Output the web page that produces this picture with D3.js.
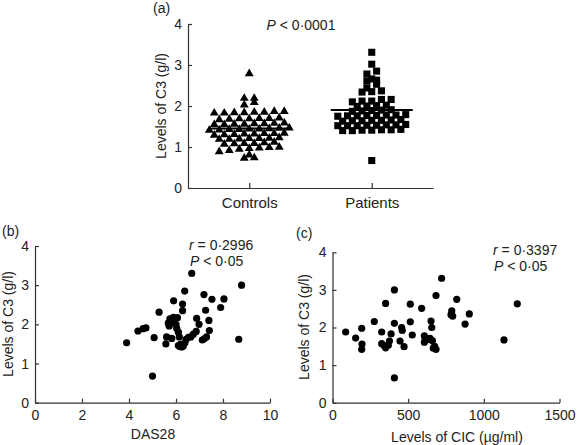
<!DOCTYPE html>
<html>
<head>
<meta charset="utf-8">
<script src="https://cdn.jsdelivr.net/npm/d3@7/dist/d3.min.js"></script>
<style>
  html, body { margin: 0; padding: 0; background: #fff; }
  svg { display: block; }
  text { font-family: "Liberation Sans", Arial, sans-serif; fill: #222; }
</style>
</head>
<body>
<svg id="chart" width="577" height="445"></svg>
<script>
// ---------- DATA ----------
const groupCategories = ["Controls", "Patients"];
const controlsC3 = [2.80,
  2.04, 2.10, 2.20, 2.20,
  1.85, 1.86, 1.84, 1.88, 1.88, 1.85, 1.84, 1.86,
  1.70, 1.71, 1.69, 1.72, 1.70, 1.68, 1.71,
  1.57, 1.58, 1.56, 1.60, 1.58, 1.57, 1.59, 1.56,
  1.48, 1.45, 1.44, 1.42, 1.46, 1.45, 1.47, 1.43, 1.44,
  1.35, 1.33, 1.34, 1.32, 1.30, 1.34, 1.31, 1.33,
  1.22, 1.24, 1.20, 1.23, 1.21, 1.22, 1.20,
  1.10, 1.12, 1.08, 1.10, 1.13, 1.09,
  1.00, 0.98, 0.99, 0.96, 1.01,
  0.93, 0.90, 0.82, 0.75, 0.74];
const patientsC3 = [0.67,
  1.40, 1.41, 1.42, 1.40, 1.42, 1.43, 1.41,
  1.52, 1.53, 1.54, 1.52, 1.55, 1.53, 1.52, 1.54,
  1.64, 1.65, 1.66, 1.63, 1.65, 1.67, 1.64,
  1.76, 1.78, 1.77, 1.75, 1.78, 1.76, 1.79, 1.77,
  1.88, 1.90, 1.89, 1.87, 1.91,
  1.99, 2.01, 2.00, 2.02,
  2.16, 2.12, 2.10, 2.12, 2.16,
  2.34, 2.37, 2.35, 2.44, 2.53,
  2.61, 2.63, 2.66, 2.78, 2.85, 3.02, 3.31];
const pValueA = "0·0001";

const das28 = [3.9, 4.38, 4.6, 4.72, 5.07, 5.0, 5.28, 5.9, 6.37, 6.28, 6.28, 6.67, 7.19, 7.53, 8.04, 7.9, 7.26, 8.79, 8.67, 7.4,
  7.42, 6.88, 6.98, 6.86, 7.3, 7.2, 7.12, 5.74, 5.89, 6.06, 5.67, 5.82, 6.0, 5.71, 6.03, 6.1, 5.6, 5.82, 5.57, 6.14,
  6.19, 6.17, 6.31, 6.43, 6.53, 6.63, 6.74, 6.38, 6.25, 6.1];
const c3VsDas = [1.53, 1.83, 1.89, 1.91, 1.66, 0.68, 2.31, 2.60, 2.85, 2.52, 2.35, 3.30, 2.76, 2.64, 2.65, 2.43, 2.36, 3.00, 1.62, 2.10,
  1.84, 2.15, 2.00, 1.82, 1.68, 1.63, 1.60, 2.14, 2.18, 2.17, 2.03, 2.04, 2.00, 1.96, 1.90, 1.80, 1.68, 1.64, 1.50, 1.68,
  1.49, 1.43, 1.45, 1.62, 1.67, 1.68, 1.75, 1.53, 1.42, 1.46];
const statsB = ["0·2996", "0·05"];

const cic = [87, 153, 193, 195, 193, 276, 325, 325, 340, 351, 369, 376, 387, 351, 409, 409, 409, 446, 457, 461,
  473, 514, 514, 527, 589, 607, 607, 612, 651, 656, 644, 660, 630, 666, 684, 675, 684, 721, 821, 788,
  794, 783, 904, 876, 1221, 1133];
const c3VsCic = [1.88, 1.72, 1.98, 1.56, 1.42, 2.16, 1.88, 1.57, 1.52, 1.46, 1.53, 1.64, 1.83, 2.64, 3.00, 2.11, 0.66, 1.64, 2.00, 1.92,
  1.49, 2.62, 2.15, 1.80, 2.51, 1.78, 1.61, 1.72, 2.17, 2.00, 1.71, 1.65, 1.68, 1.45, 1.42, 1.50, 2.85, 3.31, 2.75, 2.44,
  2.30, 2.34, 2.36, 2.09, 2.63, 1.67];
const statsC = ["0·3397", "0·05"];

const yTicks = [0, 1, 2, 3, 4];
const dasTicks = [0, 2, 4, 6, 8, 10];
const cicTicks = [0, 500, 1000, 1500];

// ---------- DRAW ----------
const svg = d3.select("#chart");
const FS = 14;
const axisColor = "#333";
const intFmt = d3.format("d");

function styleAxis(g) {
  g.selectAll("path.domain").attr("stroke", axisColor).attr("stroke-width", 1.2);
  g.selectAll(".tick line").attr("stroke", axisColor).attr("stroke-width", 1.2);
  g.selectAll(".tick text").attr("font-size", FS).attr("fill", "#222")
    .attr("font-family", '"Liberation Sans", Arial, sans-serif');
}

function yTitle(x, y) {
  svg.append("text").attr("transform", `translate(${x},${y}) rotate(-90)`)
    .attr("text-anchor", "middle").attr("font-size", FS).text("Levels of C3 (g/l)");
}

function statText(x, y, sym, op, val) {
  const t = svg.append("text").attr("x", x).attr("y", y).attr("font-size", FS);
  t.append("tspan").attr("font-style", "italic").text(sym);
  t.append("tspan").text(" " + op + " " + val);
  return t;
}

// Panel (a)
const ya = d3.scaleLinear().domain([0, 4]).range([188, 24]);
const xa = d3.scalePoint().domain(groupCategories).range([188, 433]).padding(0.5);

svg.append("g").attr("transform", "translate(188,0)")
  .call(d3.axisLeft(ya).tickValues(yTicks).tickFormat(intFmt).tickSize(-4).tickSizeOuter(0).tickPadding(6))
  .call(styleAxis);
svg.append("g").attr("transform", "translate(0,188)")
  .call(d3.axisBottom(xa).tickSize(-5).tickSizeOuter(0).tickPadding(9))
  .call(g => { styleAxis(g); g.selectAll(".tick text").attr("font-size", 15); });

svg.append("text").attr("x", 153).attr("y", 13).attr("font-size", FS).text("(a)");
yTitle(166, 106);
statText(301, 30, "P", "<", pValueA).attr("text-anchor", "middle");

// column scatter: values grouped into rows, each row centred on the category
function columnScatter(values, cx, yScale, anchor, binSize, spacing) {
  const bins = d3.group(values.map(v => ({ v })), d => Math.round((d.v - anchor) / binSize));
  const pts = [];
  bins.forEach(arr => {
    arr.sort((a, b) => a.v - b.v);
    const n = arr.length;
    arr.forEach((p, i) => {
      p.x = cx + (i - (n - 1) / 2) * spacing;
      p.y = yScale(p.v);
      pts.push(p);
    });
  });
  return pts;
}

const ctrlPts = columnScatter(controlsC3, xa("Controls"), ya, 1.45, 0.125, 10);
const triangle = d3.symbol().type(d3.symbolTriangle).size(34);
svg.append("g").selectAll("path").data(ctrlPts).join("path")
  .attr("d", triangle).attr("transform", d => `translate(${d.x},${d.y + 0.5})`).attr("fill", "#000");

const patPts = columnScatter(patientsC3, xa("Patients"), ya, 1.41, 0.118, 9.7);
const square = d3.symbol().type(d3.symbolSquare).size(50);
svg.append("g").selectAll("path").data(patPts).join("path")
  .attr("d", square).attr("transform", d => `translate(${d.x},${d.y})`).attr("fill", "#000");

// mean lines
[[controlsC3, "Controls", 41], [patientsC3, "Patients", 41]].forEach(([vals, cat, hw]) => {
  const m = d3.mean(vals);
  svg.append("line").attr("x1", xa(cat) - hw).attr("x2", xa(cat) + hw)
    .attr("y1", ya(m)).attr("y2", ya(m)).attr("stroke", "#000").attr("stroke-width", 2);
});

// Panel (b)
const yb = d3.scaleLinear().domain([0, 4]).range([402.7, 246]);
const xb = d3.scaleLinear().domain([0, 10]).range([35, 270]);
svg.append("g").attr("transform", "translate(35,0)")
  .call(d3.axisLeft(yb).tickValues(yTicks).tickFormat(intFmt).tickSize(-4).tickSizeOuter(0).tickPadding(6))
  .call(styleAxis);
svg.append("g").attr("transform", "translate(0,402.7)")
  .call(d3.axisBottom(xb).tickValues(dasTicks).tickFormat(intFmt).tickSize(-4).tickSizeOuter(0).tickPadding(7))
  .call(styleAxis);
svg.append("text").attr("x", 2).attr("y", 236).attr("font-size", FS).text("(b)");
yTitle(13, 324);
svg.append("text").attr("x", 153).attr("y", 439).attr("text-anchor", "middle").attr("font-size", FS).text("DAS28");
statText(189, 250, "r", "=", statsB[0]);
statText(190, 266, "P", "<", statsB[1]);
svg.append("g").selectAll("circle").data(das28).join("circle")
  .attr("cx", d => xb(d)).attr("cy", (d, i) => yb(c3VsDas[i])).attr("r", 3.6).attr("fill", "#000");

// Panel (c)
const yc = d3.scaleLinear().domain([0, 4]).range([402.7, 252.3]);
const xc = d3.scaleLinear().domain([0, 1500]).range([332.5, 559.5]);
svg.append("g").attr("transform", "translate(332.5,0)")
  .call(d3.axisLeft(yc).tickValues(yTicks).tickFormat(intFmt).tickSize(-4).tickSizeOuter(0).tickPadding(6))
  .call(styleAxis);
svg.append("g").attr("transform", "translate(0,402.7)")
  .call(d3.axisBottom(xc).tickValues(cicTicks).tickFormat(intFmt).tickSize(-4).tickSizeOuter(0).tickPadding(7))
  .call(styleAxis);
svg.append("text").attr("x", 296).attr("y", 238).attr("font-size", FS).text("(c)");
yTitle(309, 327);
svg.append("text").attr("x", 457).attr("y", 442).attr("text-anchor", "middle").attr("font-size", FS).text("Levels of CIC (µg/ml)");
statText(493, 255, "r", "=", statsC[0]);
statText(494, 271, "P", "<", statsC[1]);
svg.append("g").selectAll("circle").data(cic).join("circle")
  .attr("cx", d => xc(d)).attr("cy", (d, i) => yc(c3VsCic[i])).attr("r", 3.6).attr("fill", "#000");
</script>
</body>
</html>
